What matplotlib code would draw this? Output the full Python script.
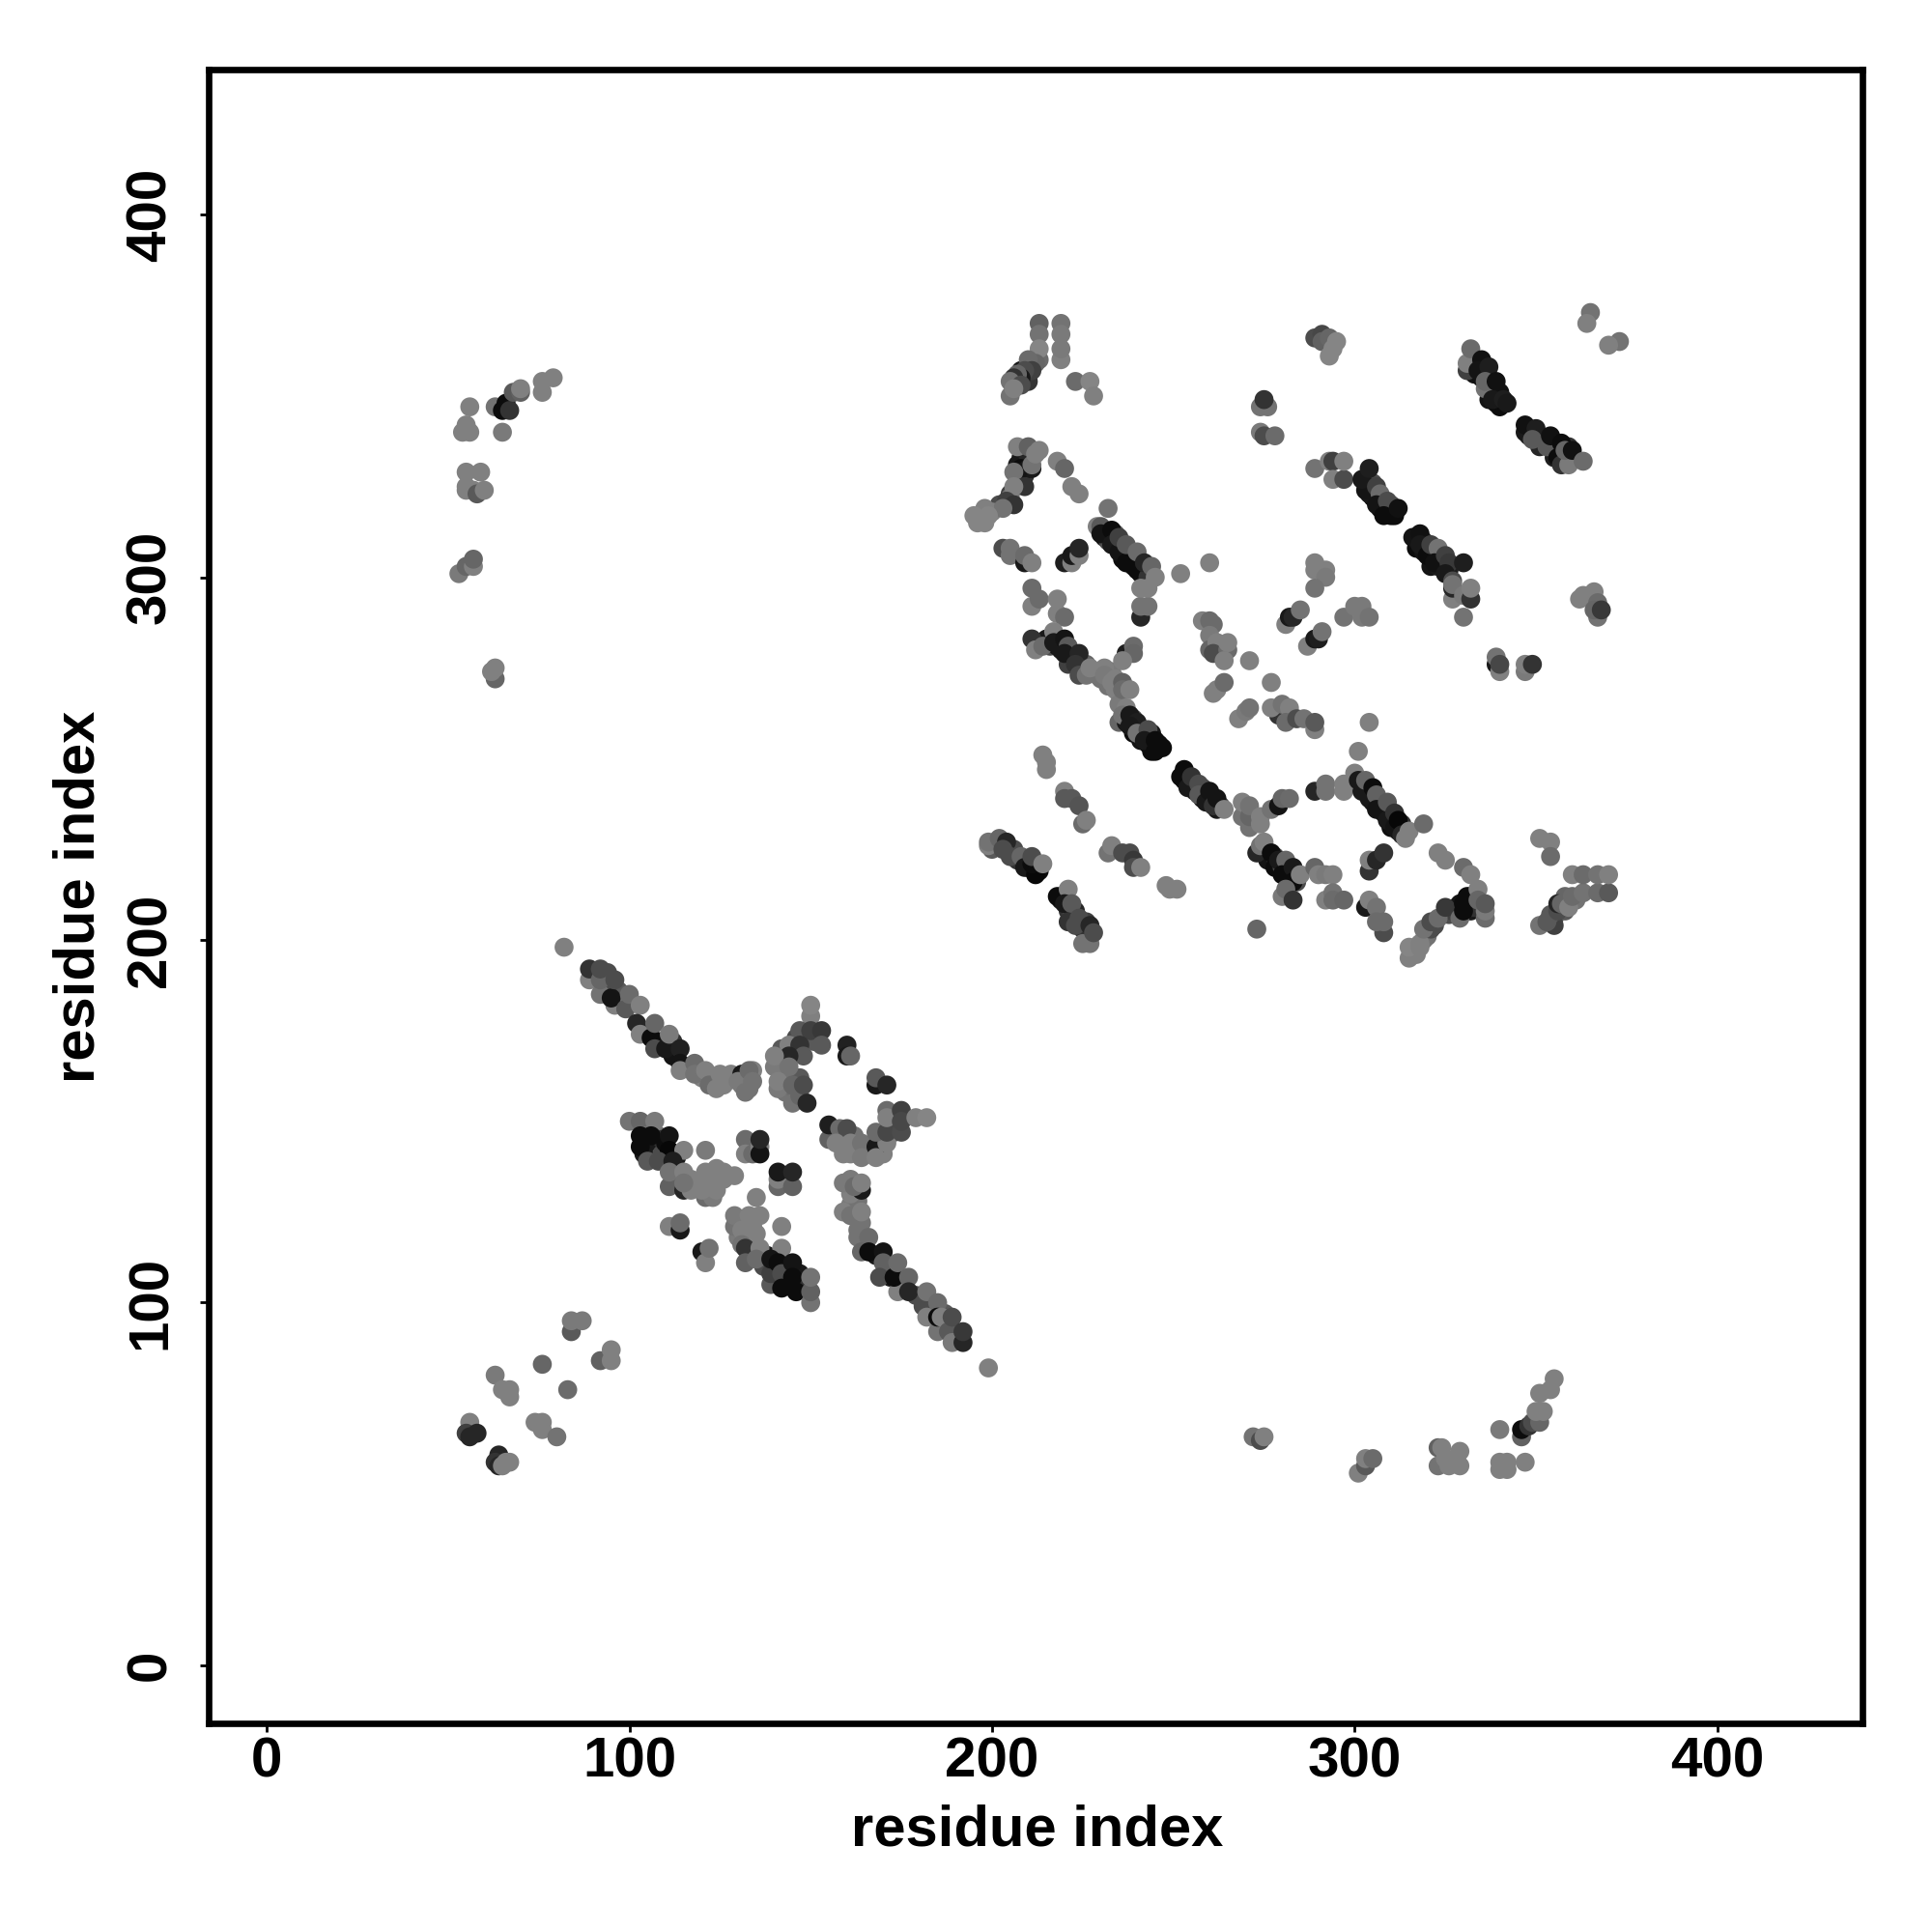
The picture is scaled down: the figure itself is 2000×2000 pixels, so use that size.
#!/usr/bin/env python3
"""Residue contact map, grey level = contact strength."""

import matplotlib
matplotlib.use("Agg")
import matplotlib.pyplot as plt
import numpy as np

plt.rcParams["font.family"] = ["Liberation Sans", "DejaVu Sans"]
plt.rcParams["font.weight"] = "bold"

TICKS = [0, 100, 200, 300, 400]
AXIS_LABEL = "residue index"

# (residue x, residue y, grey level), region by region
# contacts hidden underneath the others, these thicken the strands
under_upper = [
    (215, 283, .1), (216, 281, .3), (218, 281, .08), (219, 280, .1), (222, 278, .1), (221, 276, .25),
    (225, 275, .3), (226, 276, .4), (229, 273, .5), (230, 272, .45), (232, 270, .45), (234, 269, .5),
    (233, 274, .48), (235, 268, .5), (235, 265, .48), (235, 260, .4), (237, 260, .1), (239, 261, .3),
    (239, 257, .05), (241, 258, .1), (241, 255, .08), (244, 257, .1), (243, 254, .05), (246, 254, .05),
    (244, 252, .05), (231, 311, .1), (232, 310, .3), (234, 310, .1), (236, 308, .2), (236, 305, .05),
    (238, 306, .15), (239, 305, .1), (239, 303, .1), (241, 304, .3), (241, 301, .1), (243, 302, .2),
    (234, 312, .4), (207, 331, .1), (209, 331, .05), (209, 328, .2), (207, 327, .45), (205, 323, .25),
    (205, 322, .45), (202, 320, .3), (200, 318, .5), (197, 317, .52), (208, 333, .1), (210, 333, .15),
    (209, 355, .25), (207, 353, .15), (208, 357, .1), (210, 354, .2), (211, 358, .3),
]
under_right = [
    (253, 244, .05), (255, 243, .1), (256, 241, .08), (258, 242, .3), (258, 239, .08), (260, 238, .2),
    (262, 236, .1), (263, 237, .3), (302, 243, .2), (303, 241, .08), (304, 241, .3), (305, 238, .08),
    (307, 238, .25), (307, 236, .3), (308, 235, .08), (310, 233, .2), (310, 231, .06), (312, 230, .1),
    (313, 232, .2), (275, 224, .1), (276, 222, .08), (278, 223, .3), (278, 220, .05), (280, 220, .3),
    (281, 218, .1), (282, 217, .2), (284, 216, .3), (282, 219, .4),
    (305, 322, .05), (304, 323, .1), (305, 326, .3), (307, 319, .05), (309, 319, .1), (310, 320, .3),
    (310, 317, .05), (317, 308, .05), (319, 307, .08), (319, 310, .2), (322, 307, .3), (321, 303, .08),
    (323, 303, .1), (324, 305, .2), (325, 303, .15), (326, 302, .12),
    (333, 358, .1), (333, 356, .08), (335, 355, .07), (336, 357, .1), (337, 352, .08), (338, 352, .1),
    (340, 351, .07), (337, 349, .08), (339, 348, .06), (348, 339, .1), (349, 340, .12), (351, 339, .2),
    (352, 338, .1), (351, 336, .15), (355, 337, .1), (356, 335, .08), (355, 333, .12), (358, 333, .1),
    (359, 336, .2),
    (200, 225, .35), (201, 227, .3), (206, 225, .3), (207, 222, .2), (209, 222, .25), (210, 220, .1),
    (212, 220, .1), (213, 219, .05), (219, 211, .08), (221, 208, .2), (222, 207, .3), (223, 208, .15),
    (225, 203, .2), (226, 205, .25), (316, 197, .5), (317, 196, .5), (319, 200, .48), (320, 201, .45),
    (322, 204, .3), (326, 207, .3), (327, 208, .25), (328, 209, .1), (329, 210, .08), (332, 208, .1),
    (332, 212, .2), (333, 209, .2), (355, 206, .3), (358, 208, .35), (361, 211, .45), (358, 212, .4),
]
under_star = [
    (100, 183, .4), (97, 186, .35), (94, 187, .3), (94, 191, .3), (105, 175, .2), (108, 172, .1),
    (112, 172, .2), (112, 168, .08), (116, 165, .45), (120, 162, .5), (123, 161, .45), (126, 160, .5),
    (128, 163, .5), (105, 144, .1), (104, 141, .1), (108, 146, .45), (109, 141, .3), (109, 145, .2),
    (110, 144, .05), (113, 140, .1), (113, 134, .45), (117, 134, .5), (119, 132, .5), (122, 132, .48),
    (124, 134, .5), (126, 136, .5), (123, 133, .5), (120, 134, .5),
    (131, 122, .5), (132, 122, .5), (133, 120, .48), (130, 118, .48), (133, 118, .45), (135, 119, .5),
    (134, 114, .4), (137, 110, .3), (138, 113, .1), (140, 109, .3), (143, 106, .1), (143, 110, .1),
    (147, 108, .1), (144, 105, .08), (147, 104, .2),
    (156, 147, .35), (159, 145, .5), (163, 142, .48), (160, 143, .5), (162, 146, .45), (166, 141, .5),
    (170, 141, .5), (173, 147, .3), (173, 152, .35), (172, 149, .45), (174, 148, .5),
    (161, 127, .48), (163, 128, .45), (161, 130, .5), (163, 120, .45), (165, 116, .42), (168, 113, .1),
    (172, 110, .3), (172, 107, .1), (175, 106, .2), (176, 105, .35), (179, 102, .3), (183, 98, .4),
    (187, 94, .3), (187, 97, .35), (190, 91, .25),
    (142, 170, .35), (146, 173, .3), (149, 173, .3), (151, 172, .35), (146, 169, .25), (142, 163, .45),
    (143, 158, .45), (146, 158, .42), (147, 162, .35), (134, 164, .5), (131, 160, .45), (133, 159, .45),
]
top_wing = [
    (213, 370, .38), (219, 370, .45), (213, 367, .45), (219, 367, .48), (213, 360, .42), (213, 363, .52),
    (219, 360, .5), (219, 363, .48), (212, 359, .4), (210, 360, .42), (211, 357, .25), (209, 357, .3),
    (208, 355, .1), (207, 356, .4), (206, 355, .2), (205, 354, .45), (205, 350, .45), (208, 353, .3),
    (206, 352, .5), (223, 354, .42), (227, 354, .52), (228, 350, .5),
    (289, 366, .3), (291, 367, .28), (291, 365, .38), (293, 366, .4), (293, 361, .52), (294, 363, .52),
    (295, 365, .52), (274, 347, .45), (276, 347, .45), (275, 349, .2), (274, 340, .48), (275, 339, .3),
    (278, 339, .42), (365, 373, .45), (364, 370, .5), (373, 365, .45), (370, 364, .5),
]
left_ridge = [
    (208, 330, .05), (210, 330, .1), (211, 330, .1), (207, 329, .08), (206, 329, .45), (207, 336, .5),
    (210, 336, .38), (211, 331, .45), (212, 334, .5), (213, 335, .5), (209, 325, .2), (206, 325, .5),
    (204, 321, .25), (206, 320, .2), (203, 319, .45), (198, 319, .5), (195, 317, .52), (199, 317, .52),
    (198, 315, .52), (196, 315, .52), (218, 332, .5), (220, 330, .4), (222, 325, .5), (224, 323, .5),
    (203, 308, .3), (205, 308, .45), (205, 306, .45), (209, 304, .1), (209, 306, .42), (211, 304, .5),
    (220, 304, .12), (222, 304, .5), (222, 306, .1), (224, 306, .5), (224, 308, .15),
]
strand_a = [
    (232, 319, .45), (229, 314, .5), (230, 314, .35), (230, 312, .08), (233, 313, .05), (233, 309, .1),
    (235, 307, .08), (235, 311, .25), (237, 304, .05), (237, 309, .35), (240, 302, .05), (240, 307, .42),
    (243, 300, .2), (242, 304, .15), (244, 303, .4), (245, 300, .5), (252, 301, .5), (260, 304, .5),
    (241, 289, .15), (241, 292, .45), (243, 292, .45), (241, 297, .5), (243, 297, .5),
    (211, 297, .42), (211, 292, .5), (213, 294, .42), (218, 294, .5), (218, 290, .5), (220, 289, .42),
]
strand_b = [
    (211, 283, .2), (212, 280, .5), (214, 281, .42), (217, 285, .5), (217, 282, .1), (220, 283, .08),
    (221, 281, .35), (220, 279, .1), (224, 279, .15), (223, 276, .2), (224, 273, .3), (226, 273, .45),
    (227, 275, .5), (237, 279, .12), (239, 281, .42), (239, 279, .4), (236, 277, .5), (231, 275, .5),
    (231, 273, .48), (234, 272, .5), (233, 271, .5), (236, 271, .38), (236, 269, .42), (238, 269, .5),
    (237, 264, .5), (236, 262, .45), (238, 262, .1), (240, 260, .12), (238, 259, .1), (240, 257, .45),
    (243, 258, .3), (242, 255, .1), (245, 255, .05), (245, 252, .05), (247, 253, .05),
]
middle_patch = [
    (258, 288, .5), (260, 288, .42), (261, 287, .42), (260, 284, .48), (260, 280, .4), (262, 282, .5),
    (261, 279, .3), (265, 280, .42), (264, 277, .5), (265, 282, .5), (271, 277, .5),
    (261, 268, .5), (262, 269, .5), (264, 271, .42), (277, 271, .5), (268, 261, .5), (270, 263, .48),
    (271, 264, .45), (279, 262, .2), (277, 264, .5), (280, 265, .45), (282, 264, .5), (281, 260, .42),
    (284, 261, .3), (286, 261, .45), (289, 258, .5), (289, 260, .35), (304, 260, .5), (301, 252, .5),
    (289, 304, .5), (289, 302, .5), (292, 302, .5), (292, 300, .48), (289, 297, .45),
    (281, 287, .5), (282, 289, .1), (283, 289, .15), (285, 291, .45), (287, 281, .5), (289, 283, .1),
    (290, 283, .12), (291, 285, .45), (297, 289, .45), (300, 292, .48), (302, 292, .48), (302, 289, .48),
    (304, 289, .45),
]
upper_strands = [
    (289, 330, .45), (293, 332, .5), (294, 332, .25), (294, 327, .5), (297, 327, .3), (297, 332, .5),
    (303, 324, .08), (302, 327, .1), (304, 330, .12), (306, 325, .25), (307, 323, .42), (306, 320, .08),
    (309, 321, .3), (308, 317, .05), (311, 317, .05), (312, 319, .07),
    (316, 311, .08), (318, 312, .07), (318, 309, .1), (320, 306, .05), (321, 309, .25), (323, 308, .45),
    (322, 304, .07), (325, 306, .25), (326, 304, .22), (330, 304, .12), (325, 301, .1), (327, 294, .5),
    (327, 297, .15), (327, 299, .3), (327, 298, .45), (330, 295, .48), (332, 294, .2), (332, 297, .5),
    (330, 289, .45),
    (331, 357, .25), (331, 359, .5), (332, 363, .42), (335, 360, .07), (334, 357, .08), (337, 358, .12),
    (336, 352, .45), (336, 354, .4), (339, 354, .07), (340, 347, .05), (338, 349, .1), (341, 349, .12),
    (342, 348, .1), (347, 340, .1), (347, 342, .07), (350, 341, .12), (349, 338, .35), (353, 336, .35),
    (354, 339, .07), (356, 333, .05), (357, 331, .2), (357, 337, .05), (359, 331, .48), (358, 335, .4),
    (360, 335, .07), (363, 332, .42),
]
right_patch = [
    (362, 294, .5), (363, 295, .5), (366, 296, .5), (367, 289, .45), (367, 293, .42), (366, 291, .4),
    (368, 291, .22), (339, 276, .1), (339, 278, .45), (340, 274, .5), (340, 276, .28), (347, 274, .48),
    (347, 276, .5), (349, 276, .2),
    (351, 228, .5), (354, 227, .5), (354, 223, .42),
    (351, 204, .45), (355, 204, .25), (353, 205, .35), (354, 207, .35), (356, 208, .3), (356, 210, .15),
    (357, 210, .4), (359, 209, .5), (360, 212, .42), (363, 213, .45), (367, 213, .42), (370, 213, .35),
    (360, 218, .5), (363, 218, .42), (367, 218, .45), (370, 218, .5),
]
lower_strands = [
    (214, 251, .5), (215, 249, .5), (215, 247, .5), (220, 241, .5), (220, 239, .35), (222, 239, .35),
    (224, 237, .33), (225, 232, .42), (226, 233, .5),
    (199, 226, .5), (199, 227, .45), (202, 228, .4), (204, 227, .15), (203, 225, .3), (205, 223, .3),
    (208, 223, .4), (209, 220, .1), (212, 218, .03), (211, 221, .05), (211, 223, .3), (214, 221, .5),
    (218, 212, .05), (221, 214, .5), (220, 210, .1), (222, 210, .35), (221, 205, .2), (224, 206, .3),
    (223, 204, .3), (225, 199, .45), (227, 199, .45), (227, 204, .15), (228, 202, .3),
    (232, 224, .45), (233, 226, .5), (236, 224, .3), (238, 224, .3), (239, 222, .22), (239, 220, .3),
    (241, 220, .5), (248, 215, .5), (249, 214, .5), (251, 214, .5),
]
main_band = [
    (252, 245, .05), (253, 247, .05), (254, 242, .1), (255, 245, .2), (257, 243, .3), (257, 240, .35),
    (259, 238, .1), (260, 241, .08), (261, 237, .2), (262, 239, .08), (264, 236, .5),
    (269, 234, .45), (269, 238, .5), (271, 231, .45), (271, 234, .4), (271, 237, .45), (274, 234, .5),
    (274, 232, .5), (277, 236, .45), (279, 237, .08), (280, 239, .4), (282, 239, .42),
    (273, 224, .15), (274, 226, .45), (275, 227, .5), (277, 224, .05), (279, 222, .1), (281, 222, .4),
    (280, 218, .05), (283, 220, .1), (283, 216, .05), (285, 218, .5),
    (280, 212, .48), (281, 214, .42), (283, 211, .2), (289, 220, .4), (290, 218, .5), (292, 218, .48),
    (294, 218, .5), (292, 211, .5), (294, 213, .45), (294, 211, .42), (297, 211, .4), (273, 203, .4),
    (289, 241, .15), (292, 243, .45), (292, 241, .45), (297, 243, .5), (297, 241, .5),
    (300, 246, .5), (302, 241, .1), (301, 244, .1), (303, 244, .4), (304, 239, .1), (305, 242, .05),
    (306, 240, .38), (306, 236, .08), (309, 233, .1), (309, 238, .35), (311, 231, .08), (311, 235, .2),
    (312, 233, .03), (313, 229, .15), (315, 230, .5), (314, 228, .5), (319, 232, .42),
    (304, 219, .2), (304, 222, .5), (306, 222, .15), (308, 224, .2),
    (303, 209, .1), (304, 211, .5), (306, 209, .45), (308, 202, .3), (306, 205, .42), (308, 205, .42),
    (323, 224, .5), (325, 222, .5), (330, 220, .42), (332, 218, .5),
    (315, 195, .5), (315, 198, .52), (318, 198, .5), (318, 199, .5), (321, 203, .3), (319, 203, .45),
    (321, 205, .3), (323, 206, .42), (325, 209, .22), (329, 206, .42), (336, 206, .42), (336, 208, .48),
    (330, 208, .05), (330, 210, .05), (331, 212, .05), (334, 214, .5), (334, 211, .4), (336, 210, .35),
]
star_upper = [
    (82, 198, .5), (89, 189, .5), (89, 192, .2), (92, 185, .45), (92, 189, .4), (92, 192, .3), (96, 182, .5),
    (95, 184, .08), (96, 189, .3), (99, 181, .35), (100, 185, .42), (103, 182, .5), (102, 177, .15),
    (103, 174, .5), (106, 173, .05), (107, 177, .4), (107, 170, .3), (110, 170, .1), (111, 174, .48),
    (114, 170, .13), (114, 166, .08), (114, 164, .5), (118, 166, .42), (118, 163, .45), (121, 164, .5),
    (122, 160, .42), (124, 159, .5), (125, 163, .5), (131, 163, .1), (130, 161, .48), (133, 164, .42),
    (132, 158, .45), (134, 161, .45),
    (150, 179, .5), (150, 182, .52), (147, 175, .35), (150, 175, .25), (153, 175, .22), (153, 171, .35),
    (144, 171, .5), (147, 171, .2), (148, 168, .35), (144, 168, .15), (140, 165, .48), (140, 168, .5),
    (144, 165, .45), (141, 159, .48), (141, 161, .5), (145, 155, .45), (145, 160, .4), (147, 157, .4),
    (148, 160, .3), (149, 155, .15),
    (160, 171, .13), (160, 168, .1), (161, 168, .4), (168, 160, .1), (168, 162, .35), (171, 160, .15),
]
star_right = [
    (155, 145, .38), (155, 149, .12), (158, 148, .42), (160, 148, .3), (157, 144, .5), (161, 144, .5),
    (159, 141, .5), (161, 141, .5), (164, 144, .45), (164, 140, .48), (168, 143, .1), (168, 140, .5),
    (171, 144, .5), (168, 147, .42), (171, 147, .28), (175, 147, .3), (171, 153, .42), (171, 151, .5),
    (175, 153, .25), (175, 150, .28), (179, 151, .5), (182, 151, .52),
]
star_left = [
    (100, 150, .45), (103, 150, .4), (107, 150, .48), (104, 146, .45), (103, 146, .05), (106, 146, .05),
    (111, 146, .08), (103, 143, .05), (111, 142, .03), (115, 142, .5), (121, 142, .48), (105, 139, .35),
    (108, 139, .3), (112, 139, .12), (111, 132, .38), (111, 136, .45), (115, 131, .15), (115, 136, .5),
    (117, 131, .5), (115, 133, .45),
    (121, 129, .42), (123, 129, .48), (120, 131, .5), (124, 131, .5), (121, 134, .5), (121, 136, .5),
    (124, 137, .5), (126, 134, .5), (129, 135, .5),
    (132, 145, .42), (132, 141, .5), (134, 141, .42), (136, 143, .5), (136, 141, .08), (136, 145, .15),
    (141, 132, .4), (141, 134, .5), (141, 136, .1), (145, 132, .38), (145, 136, .15),
]
star_lower = [
    (111, 121, .5), (114, 120, .1), (114, 122, .42), (120, 114, .1), (121, 111, .5), (122, 115, .45),
    (129, 121, .45), (129, 124, .48), (131, 120, .5), (133, 124, .5), (134, 121, .5), (136, 124, .5),
    (135, 129, .5), (142, 121, .5), (142, 115, .5), (131, 116, .45), (132, 115, .2), (136, 115, .5),
    (132, 111, .38), (135, 112, .42), (139, 105, .35), (139, 108, .25), (139, 112, .08), (141, 111, .05),
    (142, 108, .3), (142, 104, .05), (145, 111, .08), (145, 107, .05), (146, 103, .05), (150, 100, .45),
    (150, 103, .38), (150, 107, .45),
    (159, 133, .48), (161, 134, .48), (164, 131, .1), (162, 132, .42), (164, 133, .5), (159, 125, .5),
    (161, 124, .45), (164, 122, .45), (164, 125, .5), (163, 118, .45), (166, 118, .42), (164, 114, .4),
    (166, 114, .05), (170, 114, .08), (170, 111, .38), (169, 107, .3), (174, 103, .5), (173, 107, .05),
    (174, 111, .42), (177, 107, .4), (177, 103, .15), (181, 99, .3), (182, 96, .5), (182, 103, .45),
    (185, 100, .42), (185, 92, .45), (185, 96, .05), (186, 96, .5), (188, 92, .35), (189, 89, .48),
    (189, 96, .3), (192, 89, .15), (192, 92, .22), (199, 82, .5),
]
left_group = [
    (79, 355, .5), (76, 354, .5), (76, 351, .5), (63, 347, .45), (65, 346, .05), (66, 348, .05),
    (67, 346, .2), (68, 351, .35), (70, 351, .38), (70, 352, .5), (56, 347, .5), (55, 342, .5),
    (54, 340, .5), (56, 340, .5), (65, 340, .48),
    (55, 329, .5), (59, 329, .5), (55, 325, .5), (55, 324, .5), (57, 324, .5), (58, 323, .35), (60, 324, .5),
    (53, 301, .48), (55, 303, .4), (57, 303, .5), (57, 305, .4), (63, 272, .4), (62, 274, .5), (63, 275, .5),
]
corner_group = [
    (84, 92, .35), (84, 95, .48), (87, 95, .48), (76, 83, .4), (92, 84, .38), (95, 87, .5), (95, 84, .5),
    (83, 76, .42), (63, 80, .48), (65, 76, .5), (67, 76, .5), (67, 74, .5), (74, 67, .5), (76, 67, .5),
    (76, 65, .5), (80, 63, .45), (56, 67, .5), (55, 64, .25), (56, 63, .15), (58, 64, .15),
    (64, 58, .15), (63, 56, .2), (64, 55, .15), (65, 55, .5), (66, 56, .5), (67, 56, .5),
]
bottom_group = [
    (272, 63, .45), (274, 62, .3), (275, 63, .5), (301, 53, .5), (303, 55, .35), (303, 57, .5), (305, 57, .42),
    (323, 60, .38), (323, 55, .45), (324, 60, .5), (325, 57, .5), (326, 55, .5), (329, 59, .5), (329, 55, .5),
    (340, 65, .48), (340, 56, .5), (340, 54, .5), (342, 56, .5), (342, 54, .5), (347, 56, .5),
    (346, 63, .38), (346, 65, .05), (348, 66, .2), (349, 67, .3), (351, 67, .4), (350, 70, .5), (352, 70, .5),
    (351, 75, .5), (354, 76, .5), (355, 79, .5),
]

regions = [
    under_upper, under_right, under_star,
    top_wing, left_ridge, strand_a, strand_b, middle_patch, upper_strands, right_patch,
    lower_strands, main_band, star_upper, star_right, star_left, star_lower,
    left_group, corner_group, bottom_group,
]


def main():
    contacts = np.array([p for region in regions for p in region])

    fig = plt.figure(figsize=(10, 10), dpi=200)
    ax = fig.add_axes([0.108, 0.108, 0.856, 0.856])
    ax.scatter(contacts[:, 0], contacts[:, 1], c=contacts[:, 2], cmap="gray",
               vmin=0, vmax=1, s=50, linewidths=0)

    ax.set_xlim(-16, 440)
    ax.set_ylim(-16, 440)
    ax.set_xticks(TICKS)
    ax.set_yticks(TICKS)
    ax.tick_params(axis="x", length=3.2, width=1, labelsize=21, pad=1.5)
    ax.tick_params(axis="y", length=3.2, width=1, labelsize=21, pad=8.5)
    plt.setp(ax.get_yticklabels(), rotation=90, va="center")
    for spine in ax.spines.values():
        spine.set_linewidth(2.4)

    fig.text(0.537, 0.0525, AXIS_LABEL, ha="center", va="center", fontsize=21.5)
    fig.text(0.041, 0.536, AXIS_LABEL, ha="center", va="center", rotation=90, fontsize=21.5)

    fig.savefig("out.png")
    plt.close(fig)


if __name__ == "__main__":
    main()
